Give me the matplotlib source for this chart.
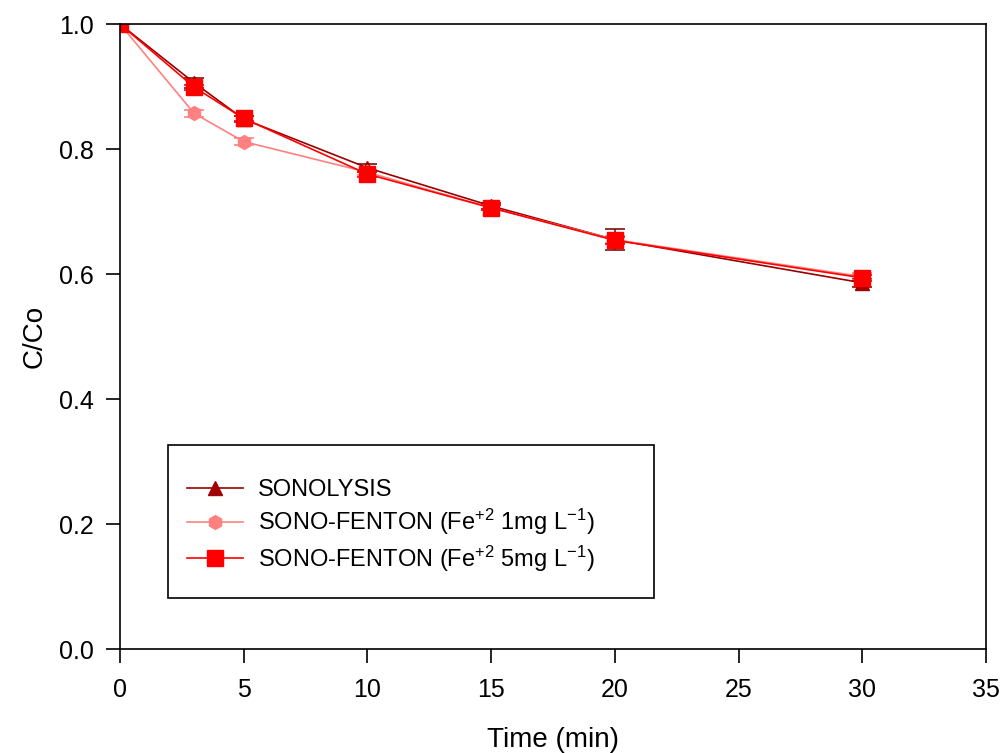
import matplotlib
matplotlib.use("Agg")
import matplotlib.pyplot as plt
from matplotlib.patches import Rectangle
from matplotlib.lines import Line2D

plt.rcParams['font.family'] = ['Liberation Sans', 'DejaVu Sans']
plt.rcParams['mathtext.fontset'] = 'custom'
plt.rcParams['mathtext.rm'] = 'Liberation Sans'
plt.rcParams['mathtext.it'] = 'Liberation Sans'

time_min = [0, 3, 5, 10, 15, 20, 30]
sonolysis = [1.0, 0.906, 0.848, 0.770, 0.709, 0.655, 0.586]
sonolysis_err = [0.0, 0.008, 0.005, 0.006, 0.005, 0.017, 0.006]
fenton_1 = [1.0, 0.857, 0.812, 0.763, 0.706, 0.655, 0.596]
fenton_1_err = [0.0, 0.006, 0.006, 0.004, 0.004, 0.006, 0.005]
fenton_5 = [1.0, 0.899, 0.849, 0.760, 0.706, 0.654, 0.594]
fenton_5_err = [0.0, 0.004, 0.004, 0.004, 0.004, 0.006, 0.005]

labels = ["SONOLYSIS",
          r"SONO-FENTON (Fe$^{+2}$ 1mg L$^{-1}$)",
          r"SONO-FENTON (Fe$^{+2}$ 5mg L$^{-1}$)"]

styles = [
    dict(color='#990000', marker='^', ms=10, mfc='#A00000', mec='#A00000', ecolor='#7a1010'),
    dict(color='#FF8080', marker='h', ms=10, mfc='#FF8080', mec='#FF8080', ecolor='#FF8080'),
    dict(color='#FF0000', marker='s', ms=11, mfc='#FF0000', mec='#FF0000', ecolor='#FF0000'),
]

fig = plt.figure(figsize=(10, 7.53), dpi=100)
ax = fig.add_axes([0.12, 0.138, 0.866, 0.830])

series = [(sonolysis, sonolysis_err), (fenton_1, fenton_1_err), (fenton_5, fenton_5_err)]
handles = []
for (vals, errs), st in zip(series, styles):
    ax.errorbar(time_min, vals, yerr=errs, lw=1.2, elinewidth=1.2,
                capsize=7, capthick=1.2, **st)
    handles.append(Line2D([], [], lw=1.2, color=st['color'], marker=st['marker'],
                          ms=st['ms'], mfc=st['mfc'], mec=st['mec']))

ax.set_xlim(0, 35)
ax.set_ylim(0, 1.0)
ax.set_xticks(range(0, 36, 5))
ax.set_yticks([0.0, 0.2, 0.4, 0.6, 0.8, 1.0])
ax.set_yticklabels(["0.0", "0.2", "0.4", "0.6", "0.8", "1.0"])
ax.tick_params(direction='out', length=10, width=1.2, labelsize=18)
ax.tick_params(axis='x', pad=11)
ax.tick_params(axis='y', pad=9)
for s in ax.spines.values():
    s.set_linewidth(1.2)

ax.set_xlabel("Time (min)", fontsize=20, labelpad=18)
ax.set_ylabel("C/Co", fontsize=20, labelpad=8)

# legend box drawn separately, entries sit in its lower part
ax.add_patch(Rectangle((0.055, 0.082), 0.562, 0.244, transform=ax.transAxes,
                       fill=False, ec='black', lw=1.2, zorder=5))
ax.legend(handles, labels, loc='upper left', bbox_to_anchor=(0.058, 0.298), frameon=False,
          fontsize=17, handlelength=2.4, labelspacing=0.25, borderpad=0.2,
          handletextpad=0.6)

fig.savefig("out.png", dpi=100)
